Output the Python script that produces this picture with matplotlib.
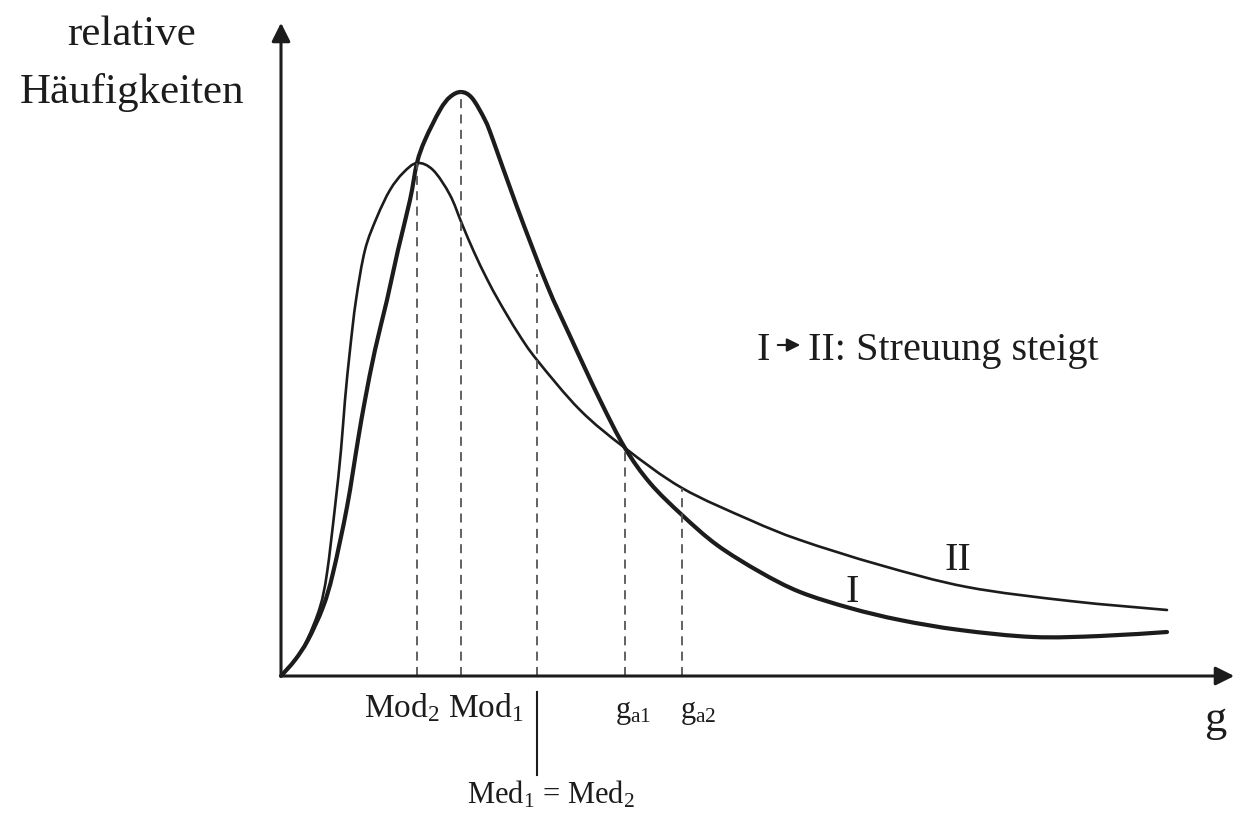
import numpy as np
import matplotlib
matplotlib.use("Agg")
import matplotlib.pyplot as plt
from matplotlib.path import Path
from matplotlib.patches import PathPatch

plt.rcParams['font.family'] = ['Liberation Serif', 'DejaVu Serif']
plt.rcParams['mathtext.fontset'] = 'custom'
plt.rcParams['mathtext.rm'] = 'Liberation Serif'
plt.rcParams['mathtext.it'] = 'Liberation Serif'

# curve I (thick, small spread)
curve1_x = [0, 14, 27, 42, 52, 66, 77, 84, 94, 106, 117, 129, 136, 144, 159, 169, 180,
            191, 204, 212, 236, 266, 289, 319, 344, 369, 401, 436, 479, 519, 569,
            619, 679, 752, 819, 886]
curve1_y = [0, 16, 36, 69, 103, 169, 236, 276, 326, 376, 426, 476, 513, 536, 566, 579, 584,
            578, 556, 536, 469, 391, 340, 276, 228, 193, 161, 131, 104, 84, 68,
            56, 46, 39, 40, 44]

# curve II (thin, larger spread)
curve2_x = [0, 14, 26, 39, 46, 54, 60, 64, 69, 75, 84, 96, 109, 122, 136, 152,
            169, 181, 193, 206, 219, 237, 256, 299, 344, 401, 469, 519, 599, 686, 789, 886]
curve2_y = [0, 16, 36, 69, 103, 169, 226, 276, 326, 376, 426, 459, 486, 503, 513, 506,
            481, 452, 424, 397, 373, 343, 316, 266, 228, 188, 156, 136, 111, 89, 75, 66]

# dashed markers: Mod2, Mod1, Med, ga1, ga2
mark_x = [136, 180, 256, 344, 401]
mark_top = [513, 584, 402, 228, 188]


def smooth_path(xs, ys):
    # Catmull-Rom through the read points, drawn as cubic Bezier segments
    pts = np.column_stack([xs, ys]).astype(float)
    verts = [pts[0]]
    codes = [Path.MOVETO]
    n = len(pts)
    for i in range(n - 1):
        p0 = pts[i - 1] if i > 0 else pts[i]
        p1 = pts[i]
        p2 = pts[i + 1]
        p3 = pts[i + 2] if i + 2 < n else pts[i + 1]
        verts += [p1 + (p2 - p0) / 6, p2 - (p3 - p1) / 6, p2]
        codes += [Path.CURVE4] * 3
    return Path(verts, codes)


fig = plt.figure(figsize=(12.38, 8.14), dpi=100)
ax = fig.add_axes([0, 0, 1, 1])
ax.set_xlim(-281, 1238 - 281)
ax.set_ylim(-(814 - 676), 676)
ax.axis('off')

ink = '#1c1c1c'

# axes with arrow heads
ax.annotate('', xy=(0, 656), xytext=(0, -2),
            arrowprops=dict(arrowstyle='-|>', color=ink, lw=2.2, mutation_scale=28))
ax.annotate('', xy=(956, 0), xytext=(-2, 0),
            arrowprops=dict(arrowstyle='-|>', color=ink, lw=2.2, mutation_scale=28))

for x, top in zip(mark_x, mark_top):
    ax.plot([x, x], [0, top], color='#555555', lw=1.3, ls=(0, (5, 3.5)))

ax.add_patch(PathPatch(smooth_path(curve2_x, curve2_y), fill=False, edgecolor=ink,
                       lw=1.9, capstyle='round', joinstyle='round'))
ax.add_patch(PathPatch(smooth_path(curve1_x, curve1_y), fill=False, edgecolor=ink,
                       lw=3.0, capstyle='round', joinstyle='round'))

# median line below the axis
ax.plot([256, 256], [-16, -99], color=ink, lw=1.5)

ax.text(-149, 641, 'relative', fontsize=31, ha='center', va='center', color=ink)
ax.text(-149, 584, 'Häufigkeiten', fontsize=31, ha='center', va='center', color=ink)
ax.text(934, -55, 'g', fontsize=32, ha='center', va='baseline', color=ink)

ax.text(163, -41, r'Mod$_2$ Mod$_1$', fontsize=24, ha='center', va='baseline', color=ink)
ax.text(334, -42, r'g$_{\mathrm{a1}}$', fontsize=22, ha='left', va='baseline', color=ink)
ax.text(399, -42, r'g$_{\mathrm{a2}}$', fontsize=22, ha='left', va='baseline', color=ink)
ax.text(270, -128, r'Med$_1$ = Med$_2$', fontsize=22, ha='center', va='baseline', color=ink)

ax.text(476, 316, 'I', fontsize=29, ha='left', va='baseline', color=ink)
ax.annotate('', xy=(522, 331), xytext=(494, 331),
            arrowprops=dict(arrowstyle='-|>', color=ink, lw=1.5, mutation_scale=20))
ax.text(527, 316, 'II: Streuung steigt', fontsize=29, ha='left', va='baseline', color=ink)

ax.text(571, 74, 'I', fontsize=29, ha='center', va='baseline', color=ink)
ax.text(677, 106, 'II', fontsize=29, ha='center', va='baseline', color=ink)

fig.savefig('out.png', dpi=100)
